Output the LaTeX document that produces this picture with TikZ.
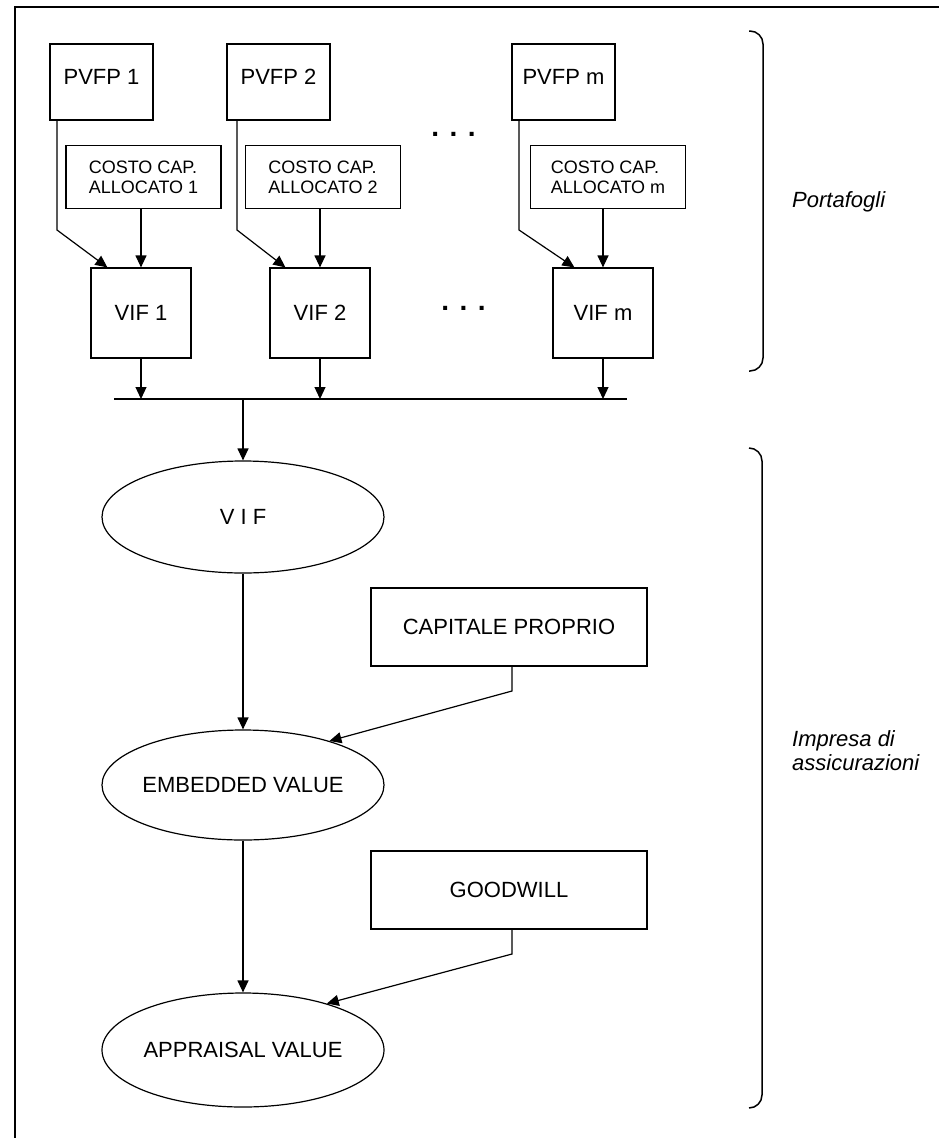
\documentclass[tikz,border=0pt]{standalone}
\usepackage{fontspec}
\setmainfont{Liberation Sans}
\usetikzlibrary{arrows.meta,shapes.geometric,calc}
\begin{document}
\begin{tikzpicture}[x=1pt,y=-1pt,
  every node/.style={font=\fontsize{22}{26}\selectfont, inner sep=0pt},
  pbox/.style={draw, line width=1.2pt, minimum width=103pt, minimum height=76pt, text depth=10pt},
  cbox/.style={draw, line width=1.2pt, minimum width=155pt, minimum height=63pt, align=left, font=\fontsize{18}{20}\selectfont},
  vbox/.style={draw, line width=1.2pt, minimum width=100pt, minimum height=90pt},
  bbox/.style={draw, line width=1.2pt, minimum width=276pt, minimum height=78pt},
  ell/.style={draw, ellipse, line width=1.2pt, minimum width=282pt, minimum height=112pt},
  dots/.style={font=\fontsize{28}{30}\selectfont\bfseries},
  conn/.style={line width=1.2pt, -{Triangle[length=12pt,width=11pt]}},
  plain/.style={line width=1.2pt},
  brace/.style={line width=1.5pt, rounded corners=13pt},
  side/.style={font=\fontsize{22}{24}\selectfont\itshape, align=left}
]
\useasboundingbox (0,0) rectangle (938,1138);
\draw[line width=1.5pt] (15,1140) -- (15,7) -- (940,7);

% top row
\node[pbox] (P1) at (101.5,82) {PVFP 1};
\node[pbox] (P2) at (278.5,82) {PVFP 2};
\node[pbox] (Pm) at (563.5,82) {PVFP m};
\node[cbox] (C1) at (143.5,177) {COSTO CAP.\\ALLOCATO 1};
\node[cbox] (C2) at (323,177) {COSTO CAP.\\ALLOCATO 2};
\node[cbox] (Cm) at (608,177) {COSTO CAP.\\ALLOCATO m};
\node[vbox] (V1) at (141,313) {VIF 1};
\node[vbox] (V2) at (320,313) {VIF 2};
\node[vbox] (Vm) at (603,313) {VIF m};
\node[dots] (d1) at (453.5,134) {. . .};
\node[dots] (d2) at (463.5,308) {. . .};

\coordinate (k1) at (57,230);
\coordinate (k2) at (237,230);
\coordinate (km) at (519,230);
\draw[conn] (k1 |- P1.south) -- (k1) -- ([xshift=17pt]V1.north west);
\draw[conn] (k2 |- P2.south) -- (k2) -- ([xshift=16pt]V2.north west);
\draw[conn] (km |- Pm.south) -- (km) -- ([xshift=22pt]Vm.north west);
\draw[conn] (V1.north |- C1.south) -- (V1.north);
\draw[conn] (V2.north |- C2.south) -- (V2.north);
\draw[conn] (Vm.north |- Cm.south) -- (Vm.north);

% bus
\coordinate (bL) at (114,399);
\coordinate (bR) at (627,399);
\draw[plain] (bL) -- (bR);
\draw[conn] (V1.south) -- (V1.south |- bL);
\draw[conn] (V2.south) -- (V2.south |- bL);
\draw[conn] (Vm.south) -- (Vm.south |- bL);

% lower part
\node[ell, label={center:V I F}] (E1) at (243,517) {};
\node[ell, minimum height=110pt, label={center:EMBEDDED VALUE}] (E2) at (243,785) {};
\node[ell, minimum height=114pt, label={center:APPRAISAL VALUE}] (E3) at (243,1050) {};
\draw[conn] (bL -| E1.north) -- (E1.north);
\draw[conn] (E1.south) -- (E2.north);
\draw[conn] (E2.south) -- (E3.north);

\node[bbox] (CP) at (509,627) {CAPITALE PROPRIO};
\node[bbox] (GW) at (509,890) {GOODWILL};
\coordinate (j1) at (512,691);
\coordinate (j2) at (512,954);
\draw[conn] (j1 |- CP.south) -- (j1) -- (E2.27);
\draw[conn] (j2 |- GW.south) -- (j2) -- (E3.29);

% braces and side texts
\draw[brace] (749,31) -- (763,31) -- (763,371) -- (749,371);
\draw[brace] (749,448) -- (762,448) -- (762,1108) -- (749,1108);
\node[side, anchor=base west] (T1) at (792,207) {Portafogli};
\node[side, anchor=west] (T2) at (792,751) {Impresa di\\assicurazioni};
\end{tikzpicture}
\end{document}
